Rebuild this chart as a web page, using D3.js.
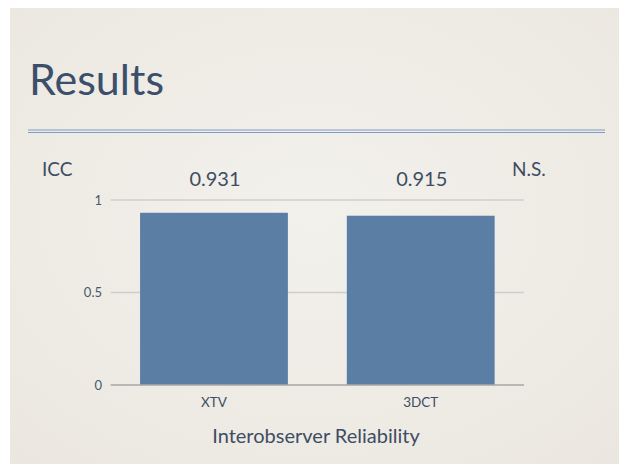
<!DOCTYPE html>
<html>
<head>
<meta charset="utf-8">
<script src="https://cdn.jsdelivr.net/npm/d3@7"></script>
<style>
  html, body { margin: 0; padding: 0; background: #ffffff; }
  svg { display: block; }
  text { font-family: Lato, "Open Sans", sans-serif; }
</style>
</head>
<body>
<svg id="chart" width="619" height="464"></svg>
<script>
const categories = ["XTV", "3DCT"];
const values = [0.931, 0.915];
const valueLabels = ["0.931", "0.915"];
const yTicks = [0, 0.5, 1];
const yTickLabels = ["0", "0.5", "1"];
const title = "Results";
const yAxisTitle = "ICC";
const xAxisTitle = "Interobserver Reliability";
const note = "N.S.";

const svg = d3.select("#chart");

// slide background
const defs = svg.append("defs");
const grad = defs.append("radialGradient").attr("id", "bg").attr("cx", "50%").attr("cy", "45%").attr("r", "75%");
grad.append("stop").attr("offset", "0%").attr("stop-color", "#f3f1ec");
grad.append("stop").attr("offset", "100%").attr("stop-color", "#ebe7e0");
svg.append("rect").attr("x", 10).attr("y", 8).attr("width", 609).attr("height", 456).attr("fill", "url(#bg)");

// title
svg.append("text").attr("x", 29).attr("y", 95).attr("font-size", 43).attr("fill", "#3b4f6b").text(title);

// double rule
svg.append("line").attr("x1", 28).attr("x2", 605).attr("y1", 130).attr("y2", 130).attr("stroke", "#7f9cc6").attr("stroke-width", 1.2);
svg.append("line").attr("x1", 28).attr("x2", 605).attr("y1", 132.5).attr("y2", 132.5).attr("stroke", "#7f9cc6").attr("stroke-width", 1.2);

// scales
const x = d3.scaleBand().domain(categories).range([110.7, 524]).paddingInner(0.285).paddingOuter(0.142);
const y = d3.scaleLinear().domain([0, 1]).range([385, 200]);

// gridlines
svg.append("g").selectAll("line").data(yTicks.filter(t => t !== 0)).join("line")
  .attr("x1", 110.7).attr("x2", 524)
  .attr("y1", d => y(d)).attr("y2", d => y(d))
  .attr("stroke", "#d0cecb").attr("stroke-width", 1.5);

// y tick labels
svg.append("g").selectAll("text").data(yTicks).join("text")
  .attr("x", 102).attr("y", d => y(d)).attr("dy", "0.35em")
  .attr("text-anchor", "end").attr("font-size", 13).attr("fill", "#4a5870")
  .text((d, i) => yTickLabels[i]);

// bars
svg.append("g").selectAll("rect").data(values).join("rect")
  .attr("x", (d, i) => x(categories[i]))
  .attr("y", d => y(d))
  .attr("width", x.bandwidth())
  .attr("height", d => y(0) - y(d))
  .attr("fill", "#5b7ea4");

// baseline
svg.append("line").attr("x1", 110.7).attr("x2", 524).attr("y1", y(0)).attr("y2", y(0))
  .attr("stroke", "#a9a7a4").attr("stroke-width", 1.5);

// value labels
svg.append("g").selectAll("text").data(values).join("text")
  .attr("x", (d, i) => x(categories[i]) + x.bandwidth() / 2 + 1)
  .attr("y", 186).attr("text-anchor", "middle").attr("font-size", 20).attr("fill", "#3e4d63")
  .text((d, i) => valueLabels[i]);

// x category labels
svg.append("g").selectAll("text").data(categories).join("text")
  .attr("x", d => x(d) + x.bandwidth() / 2).attr("y", 407)
  .attr("text-anchor", "middle").attr("font-size", 13.5).attr("fill", "#3e4d63")
  .text(d => d);

// axis titles
svg.append("text").attr("x", 316).attr("y", 442.5).attr("text-anchor", "middle")
  .attr("font-size", 20).attr("fill", "#3e4d63").text(xAxisTitle);
svg.append("text").attr("x", 42).attr("y", 176).attr("font-size", 19).attr("fill", "#3e4d63").text(yAxisTitle);
svg.append("text").attr("x", 512).attr("y", 176).attr("font-size", 19).attr("fill", "#3e4d63").text(note);
</script>
</body>
</html>
